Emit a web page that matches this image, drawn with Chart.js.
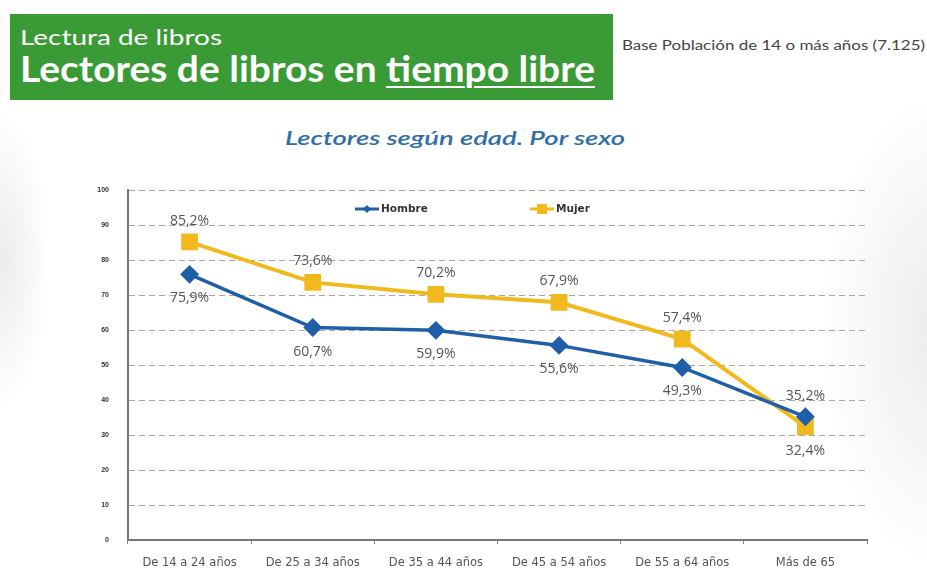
<!DOCTYPE html>
<html>
<head>
<meta charset="utf-8">
<script src="https://cdn.jsdelivr.net/npm/chart.js@4"></script>
<style>
  html, body { margin: 0; padding: 0; }
  body {
    width: 927px; height: 585px; position: relative; overflow: hidden;
    background:
      radial-gradient(ellipse 50px 150px at 0px 260px, rgba(0,0,0,0.08), rgba(0,0,0,0) 100%),
      radial-gradient(ellipse 120px 240px at 940px 330px, rgba(0,0,0,0.08), rgba(0,0,0,0) 100%),
      #fff;
    font-family: "Lato", "DejaVu Sans", sans-serif;
  }
  .banner {
    position: absolute; left: 10px; top: 14px; width: 603px; height: 86px;
    background: #3a9a35;
    color: #fff;
  }
  .fit { position: absolute; white-space: nowrap; transform-origin: 0 0; }
  .banner .small { left: 10px; top: 9px; font-size: 22px; font-weight: 400; }
  .banner .big { left: 10px; top: 31px; font-size: 37px; font-weight: 700; }
  .banner .big u { text-decoration-thickness: 2px; text-underline-offset: 4px; }
  .base { left: 622px; top: 36px; font-size: 14px; font-weight: 400; color: #444; }
  .subtitle { left: 285px; top: 126px; font-size: 19px; font-style: italic; font-weight: 600; color: #2e6fa8; }
  #chart { position: absolute; left: 0; top: 0; }
</style>
</head>
<body>
<div class="banner">
  <div class="fit small" data-w="202">Lectura de libros</div>
  <div class="fit big" data-w="575">Lectores de libros en <u>tiempo libre</u></div>
</div>
<div class="fit base" data-w="303">Base Población de 14 o más años (7.125)</div>
<div class="fit subtitle" data-w="340">Lectores según edad. Por sexo</div>
<canvas id="chart" width="927" height="585"></canvas>
<script>
// Data
const categories = ['De 14 a 24 años', 'De 25 a 34 años', 'De 35 a 44 años', 'De 45 a 54 años', 'De 55 a 64 años', 'Más de 65'];
const hombre = [75.9, 60.7, 59.9, 55.6, 49.3, 35.2];
const mujer = [85.2, 73.6, 70.2, 67.9, 57.4, 32.4];
const yTicks = [0, 10, 20, 30, 40, 50, 60, 70, 80, 90, 100];

const blue = '#1f5fa8';
const yellow = '#f1b91d';

// stretch the header texts to the widths seen in the picture
document.querySelectorAll('.fit').forEach(el => {
  const target = parseFloat(el.dataset.w);
  const w = el.getBoundingClientRect().width;
  el.style.transform = 'scaleX(' + (target / w) + ')';
});

// value labels: Mujer above, Hombre below (swapped on the last point)
const valueLabels = {
  id: 'valueLabels',
  afterDatasetsDraw(chart) {
    const ctx = chart.ctx;
    ctx.save();
    ctx.font = '14px "Open Sans", sans-serif';
    ctx.fillStyle = '#555';
    ctx.textAlign = 'center';
    ctx.textBaseline = 'middle';
    chart.data.datasets.forEach((ds, di) => {
      const meta = chart.getDatasetMeta(di);
      meta.data.forEach((pt, i) => {
        const last = i === ds.data.length - 1;
        let above = di === 1;
        if (last) above = !above;
        const dy = above ? -21 : 24;
        const txt = ds.data[i].toFixed(1).replace('.', ',') + '%';
        ctx.fillText(txt, pt.x, pt.y + dy);
      });
    });
    ctx.restore();
  }
};

// legend drawn inside the plot area, near the top
const innerLegend = {
  id: 'innerLegend',
  afterDraw(chart) {
    const ctx = chart.ctx;
    const area = chart.chartArea;
    const y = area.top + 19;
    const items = [
      { x: area.left + 227, ds: chart.data.datasets[0] },
      { x: area.left + 402, ds: chart.data.datasets[1] }
    ];
    ctx.save();
    ctx.font = 'bold 10.5px "DejaVu Sans", sans-serif';
    ctx.textBaseline = 'middle';
    items.forEach(it => {
      ctx.strokeStyle = it.ds.borderColor;
      ctx.lineWidth = 3;
      ctx.beginPath();
      ctx.moveTo(it.x, y);
      ctx.lineTo(it.x + 24, y);
      ctx.stroke();
      ctx.fillStyle = it.ds.borderColor;
      ctx.beginPath();
      if (it.ds.pointStyle === 'rectRot') {
        ctx.moveTo(it.x + 12, y - 4); ctx.lineTo(it.x + 16, y);
        ctx.lineTo(it.x + 12, y + 4); ctx.lineTo(it.x + 8, y);
      } else {
        ctx.rect(it.x + 7, y - 5, 10, 10);
      }
      ctx.fill();
      ctx.fillStyle = '#333';
      ctx.fillText(it.ds.label, it.x + 26, y);
    });
    ctx.restore();
  }
};

new Chart(document.getElementById('chart'), {
  type: 'line',
  data: {
    labels: categories,
    datasets: [
      {
        label: 'Hombre',
        data: hombre,
        borderColor: blue,
        backgroundColor: blue,
        borderWidth: 3.5,
        pointStyle: 'rectRot',
        pointRadius: 7,
        tension: 0
      },
      {
        label: 'Mujer',
        data: mujer,
        borderColor: yellow,
        backgroundColor: yellow,
        borderWidth: 4,
        pointStyle: 'rect',
        pointRadius: 9,
        tension: 0
      }
    ]
  },
  options: {
    responsive: false,
    animation: false,
    layout: { padding: { left: 90, right: 60, top: 190, bottom: 0 } },
    plugins: {
      legend: { display: false },
      tooltip: { enabled: false }
    },
    scales: {
      x: {
        offset: true,
        grid: { display: true, drawOnChartArea: false, tickLength: 4, color: '#888', offset: true },
        border: { display: true, color: '#777', width: 2 },
        ticks: { color: '#555', font: { size: 11.5, family: '"DejaVu Sans"' }, padding: 12, maxRotation: 0 },
        afterFit(scale) { scale.height = 45; }
      },
      y: {
        min: 0,
        max: 100,
        afterBuildTicks(scale) { scale.ticks = yTicks.map(v => ({ value: v })); },
        grid: { color: '#a8a8a8', lineWidth: 1, drawTicks: false },
        border: { display: true, color: '#777', width: 2, dash: [6, 4] },
        ticks: { color: '#333', font: { size: 7, weight: 'bold' }, padding: 19 },
        afterFit(scale) { scale.width = 38; }
      }
    }
  },
  plugins: [valueLabels, innerLegend]
});
</script>
</body>
</html>
